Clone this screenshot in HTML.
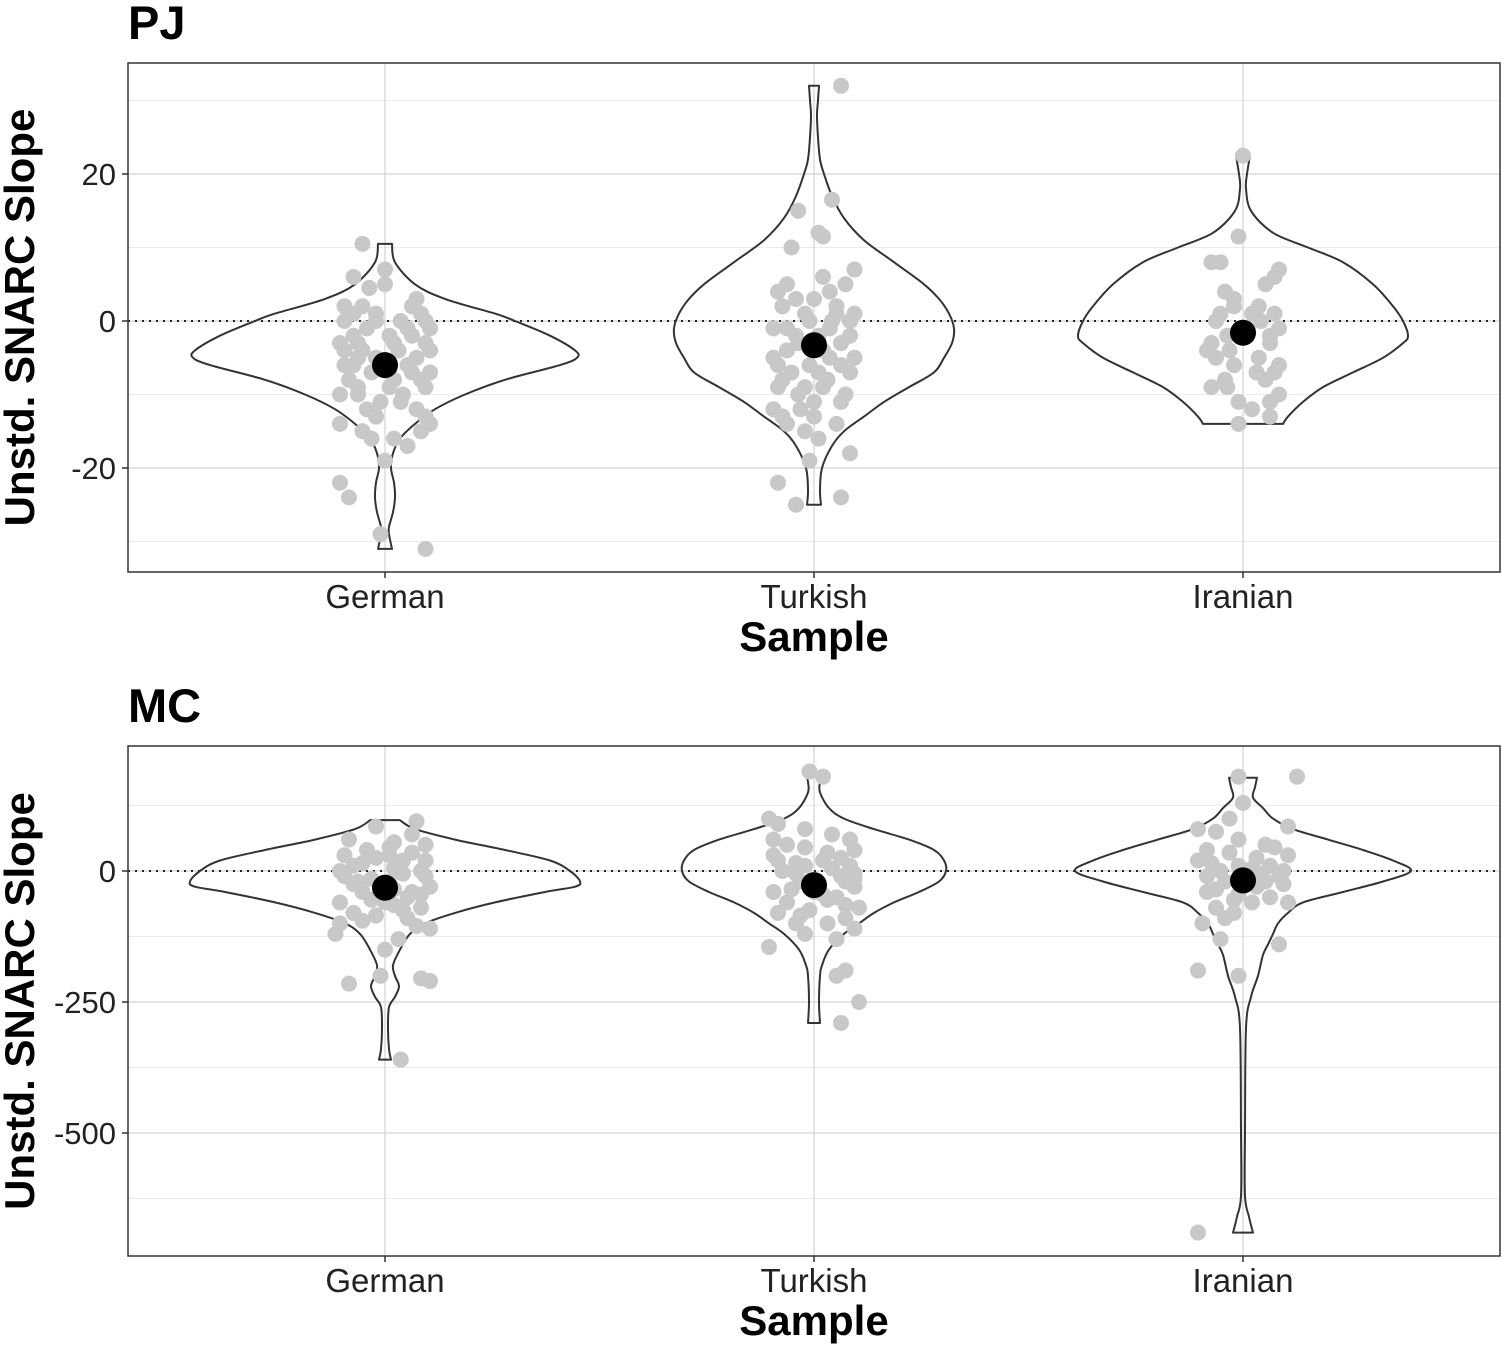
<!DOCTYPE html>
<html><head><meta charset="utf-8"><style>
body{margin:0;background:#fff}
svg text{font-family:"Liberation Sans",Arial,sans-serif}
</style></head><body>
<svg id="chart" width="1502" height="1346" xmlns="http://www.w3.org/2000/svg"></svg>
<script>
const categories = ["German","Turkish","Iranian"];
// Panel PJ
const pjTicks = [20,0,-20];
const pjMinor = [30,10,-10,-30];
const pjMeans = [-6,-3.3,-1.6];
const pjViolinGerman = [[10.5,7],[8,10],[5,30],[3,60],[1,110],[0,130],[-2,165],[-4,190],[-5,192],[-6,175],[-8,120],[-10,80],[-12,50],[-14,30],[-16,15],[-18,8],[-20,6],[-22,9],[-24,10],[-26,8],[-28,4],[-29,4],[-31,7]];
const pjViolinTurkish = [[32,5],[30,4],[28,3],[25,4],[22,6],[20,10],[17,18],[14,30],[11,50],[8,80],[5,110],[3,125],[1,135],[-1,140],[-3,138],[-5,130],[-7,120],[-9,95],[-11,70],[-13,50],[-15,30],[-17,18],[-20,8],[-23,6],[-25,7]];
const pjViolinIranian = [[22.5,7],[20,4],[18,3],[15,8],[12,30],[10,65],[8,100],[5,130],[2,150],[0,160],[-2,165],[-3,160],[-5,140],[-7,110],[-9,80],[-11,60],[-13,45],[-14,40]];
const pjPointsGerman = [[10.5,-5],[6,-7],[7,0],[5,0],[4.5,-3.5],[3,7],[2,-9],[1,-2],[0,9],[0,-9],[-1,5],[-2,-7],[-3,2],[-3,9],[-4,-5],[-5,7],[-6,-9],[-7,10],[-8,2],[-9,-6],[-10,-10],[-11,3.5],[-12,7],[-13,-2],[-14,-10],[-14,10],[-15,-5],[-16,2],[-17,5],[-19,0],[-22,-10],[-24,-8],[-29,-1],[-31,9],[-2,6],[-4,10],[0,3.5],[2,-5],[-6,0],[-8,-8],[-11,-1],[1,8],[-5,-2],[-3,-10],[-7,6],[-9,9],[-1,-4],[-2,1],[-4,3],[-5,-6],[-6,5],[-7,-3],[-8,8],[-10,4],[-12,-4],[-13,9],[1,-7],[-1,10],[-3,-6],[-6,-7],[-9,1],[-10,-6],[-15,8],[-16,-3],[-4,-9],[0,-2],[2,6]];
const pjPointsTurkish = [[32,6],[16.5,4],[15,-3.5],[12,1],[11.5,2],[10,-5],[7,9],[6,2],[5,7],[4,-8],[3,0],[2,5],[1,-2],[0,8],[-1,-9],[-2,1],[-3,6],[-4,-6],[-5,3.5],[-6,-1],[-7,8],[-8,-7],[-9,2],[-10,-3.5],[-11,6],[-12,-9],[-13,0],[-14,5],[-15,-2],[-16,1],[-18,8],[-19,-1],[-22,-8],[-24,6],[-25,-4],[2,-7],[-1,3.5],[-3,-3.5],[-5,9],[-7,-5],[0,-1],[4,3.5],[-9,-8],[-11,0],[-2,8],[3,-4],[1,5],[-1,-6],[-4,2],[-6,-8],[-6,6],[-8,3],[-10,7],[-12,-3],[-13,-7],[0,4],[-2,-4],[-5,-9],[-7,1],[-9,-2],[-14,-6],[5,-6],[1,9]];
const pjPointsIranian = [[22.5,0],[11.5,-1],[8,-7],[8,-5],[7,8],[5,5],[3,-2],[2,3.5],[1,7],[0,-6],[-1,1],[-2,-3.5],[-3,6],[-4,-8],[-5,3.5],[-6,-2],[-7,7],[-8,5],[-9,-7],[-9,-3.5],[-10,8],[-11,-1],[-11,6],[-12,2],[-13,6],[-14,-1],[1,-5],[6,7],[-3,-7],[-6,8],[2,-2],[0,4],[-1,8],[-4,-3],[-5,-6],[-7,3],[-8,-4],[1,2],[-2,6],[4,-4]];
// Panel MC
const mcTicks = [0,-250,-500];
const mcMinor = [125,-125,-375,-625];
const mcMeans = [-32,-27,-18];
const mcViolinGerman = [[97,15],[80,30],[60,70],[40,120],[20,165],[0,185],[-20,195],[-30,190],[-40,160],[-60,110],[-80,70],[-100,40],[-120,25],[-150,15],[-180,8],[-200,10],[-220,14],[-240,10],[-260,4],[-300,3],[-340,4],[-360,6]];
const mcViolinTurkish = [[185,8],[170,6],[150,6],[120,15],[100,30],[80,60],[60,95],[40,120],[20,130],[0,132],[-20,125],[-40,105],[-60,80],[-80,60],[-100,45],[-120,30],[-150,15],[-180,8],[-200,6],[-250,5],[-290,6]];
const mcViolinIranian = [[178,14],[160,12],[140,10],[120,20],[100,30],[80,50],[60,85],[40,120],[20,150],[0,168],[-20,140],[-40,100],[-60,60],[-80,45],[-100,35],[-120,30],[-140,25],[-160,20],[-200,15],[-240,8],[-300,3],[-500,2],[-620,2],[-660,6],[-690,10]];
const mcPointsGerman = [[95,7],[85,-2],[70,6],[60,-8],[50,9],[40,-4],[30,-9],[20,4],[10,-7],[0,8],[-10,-9],[-20,1],[-30,10],[-40,-5],[-50,5],[-60,-10],[-70,8],[-80,-7],[-90,5],[-100,-10],[-110,10],[-120,-11],[-130,3],[-150,0],[-200,-1],[-205,8],[-210,10],[-215,-8],[-360,3.5],[25,-2],[-35,2],[5,2],[-15,-3],[45,1],[-65,2],[-85,-2],[35,6],[15,-5],[-5,4],[-25,-7],[-45,8],[-55,-3],[-75,4],[-95,-5],[55,2],[-10,9],[-40,6],[10,3],[30,1],[-20,-6],[-60,0],[-105,7],[0,-10],[20,9]];
const mcPointsTurkish = [[190,-1],[180,2],[100,-10],[90,-8],[80,-2],[70,4],[60,8],[50,-6],[40,9],[30,-9],[20,2],[10,8],[0,-7],[-10,6],[-20,-3],[-30,9],[-40,-9],[-50,5],[-60,-6],[-70,10],[-80,-8],[-90,7],[-100,-4],[-110,9],[-120,-2],[-130,5],[-145,-10],[-190,7],[-200,5],[-250,10],[-290,6],[15,-4],[-25,1],[-55,3],[5,4],[-75,-1],[45,-2],[25,6],[-5,-4],[-15,9],[-35,-5],[-45,2],[-65,7],[-85,-3],[60,-9],[35,3],[10,-2],[-20,7],[-40,0],[-100,3],[-5,9],[20,-8]];
const mcPointsIranian = [[180,-1],[180,12],[130,0],[100,-3],[85,10],[80,-10],[75,-6],[60,-1],[50,5],[40,-8],[30,10],[20,-10],[10,6],[0,-5],[-10,8],[-20,-4],[-30,3],[-40,-8],[-50,6],[-60,10],[-70,-6],[-80,-2],[-100,-9],[-130,-5],[-140,8],[-190,-10],[-200,-1],[-690,-10],[5,2],[-15,1],[25,3],[-45,-1],[15,-7],[35,-3],[-5,4],[-25,9],[-35,-6],[-55,-2],[45,7],[10,-1],[-10,-8],[-20,5],[0,9],[-60,2],[-90,-4]];

const svg = document.getElementById('chart');
const NS = 'http://www.w3.org/2000/svg';
function mk(tag, attrs, parent){const e=document.createElementNS(NS,tag);for(const k in attrs)e.setAttribute(k,attrs[k]);(parent||svg).appendChild(e);return e;}
const X0=128,X1=1500,band=(X1-X0)/3.2;
function xScale(i){return 385+i*429;}
function smooth(pts){ // catmull-rom segments from pts[0] (already at) to end
  let d='';
  for(let i=0;i<pts.length-1;i++){
    const p0=pts[Math.max(0,i-1)],p1=pts[i],p2=pts[i+1],p3=pts[Math.min(pts.length-1,i+2)];
    const c1x=p1[0]+(p2[0]-p0[0])/6,c1y=p1[1]+(p2[1]-p0[1])/6;
    const c2x=p2[0]-(p3[0]-p1[0])/6,c2y=p2[1]-(p3[1]-p1[1])/6;
    d+=' C'+c1x.toFixed(1)+','+c1y.toFixed(1)+' '+c2x.toFixed(1)+','+c2y.toFixed(1)+' '+p2[0].toFixed(1)+','+p2[1].toFixed(1);
  }
  return d;
}

function panel(cfg){
  const g=mk('g',{});
  
  
  const y=v=>cfg.y0+(v-cfg.v0)*cfg.k;
  cfg.minor.forEach(v=>{const l=mk('line',{x1:X0,x2:X1,y1:y(v),y2:y(v),stroke:'#ebebeb','stroke-width':1},g);
    });
  cfg.ticks.forEach(v=>{const l=mk('line',{x1:X0,x2:X1,y1:y(v),y2:y(v),stroke:'#d3d3d3','stroke-width':1.2},g);
    });
  categories.forEach((c,i)=>{const l=mk('line',{x1:xScale(i),x2:xScale(i),y1:cfg.top,y2:cfg.bot,stroke:'#d3d3d3','stroke-width':1.2},g);
    });
  const z=mk('line',{x1:X0,x2:X1,y1:y(0),y2:y(0),stroke:'#222','stroke-width':2,'stroke-dasharray':'2,5'},g);
  
  cfg.violins.forEach((prof,i)=>{
    const cx=xScale(i);
    const right=prof.map(p=>[cx+p[1],y(p[0])]);
    const left=prof.slice().reverse().map(p=>[cx-p[1],y(p[0])]);
    let d='M'+left[left.length-1][0]+','+left[left.length-1][1]+' L'+right[0][0]+','+right[0][1];
    d+=smooth(right);
    d+=' L'+left[0][0].toFixed(1)+','+left[0][1].toFixed(1);
    d+=smooth(left);
    d+=' Z';
    const p=mk('path',{d:d,fill:'none',stroke:'#333','stroke-width':2,'stroke-linejoin':'round'},g);
    
    
  });
  cfg.points.forEach((arr,i)=>{arr.forEach(pt=>{
    const c=mk('circle',{cx:xScale(i)+pt[1]*band/100*1.05,cy:y(pt[0]),r:8,fill:'#c8c8c8'},g);
    
    
  });});
  cfg.means.forEach((m,i)=>{
    const c=mk('circle',{cx:xScale(i),cy:y(m),r:13,fill:'#000'},g);
    
    
  });
  const b=mk('rect',{x:X0,y:cfg.top,width:X1-X0,height:cfg.bot-cfg.top,fill:'none',stroke:'#333','stroke-width':1.5},g);
  
  cfg.ticks.forEach(v=>{
    const t=mk('line',{x1:X0-6,x2:X0,y1:y(v),y2:y(v),stroke:'#333','stroke-width':1.5},g);
    
    const tx=mk('text',{x:X0-12,y:y(v)+11,'text-anchor':'end','font-size':31,fill:'#222'},g);
    tx.textContent=v;
  });
  categories.forEach((c,i)=>{
    const t=mk('line',{x1:xScale(i),x2:xScale(i),y1:cfg.bot,y2:cfg.bot+6,stroke:'#333','stroke-width':1.5},g);
    
    const tx=mk('text',{x:xScale(i),y:cfg.bot+36,'text-anchor':'middle','font-size':33,fill:'#222'},g);
    tx.textContent=c;
  });
  const xt=mk('text',{x:814,y:cfg.bot+79,'text-anchor':'middle','font-size':42,'font-weight':'bold',fill:'#000'},g);
  xt.textContent='Sample';
  const cy=(cfg.top+cfg.bot)/2;
  const yt=mk('text',{x:0,y:0,transform:'translate(34,'+cy+') rotate(-90)','text-anchor':'middle','font-size':42,'font-weight':'bold',fill:'#000'},g);
  yt.textContent='Unstd. SNARC Slope';
  const tt=mk('text',{x:128,y:cfg.top-24,'font-size':47,'font-weight':'bold',fill:'#000'},g);
  tt.textContent=cfg.name;
}
panel({name:'PJ',top:63,bot:572,y0:321,v0:0,k:-7.35,ticks:pjTicks,minor:pjMinor,means:pjMeans,
  violins:[pjViolinGerman,pjViolinTurkish,pjViolinIranian],points:[pjPointsGerman,pjPointsTurkish,pjPointsIranian]});
panel({name:'MC',top:746,bot:1256,y0:871,v0:0,k:-0.524,ticks:mcTicks,minor:mcMinor,means:mcMeans,
  violins:[mcViolinGerman,mcViolinTurkish,mcViolinIranian],points:[mcPointsGerman,mcPointsTurkish,mcPointsIranian]});
</script>
</body></html>
